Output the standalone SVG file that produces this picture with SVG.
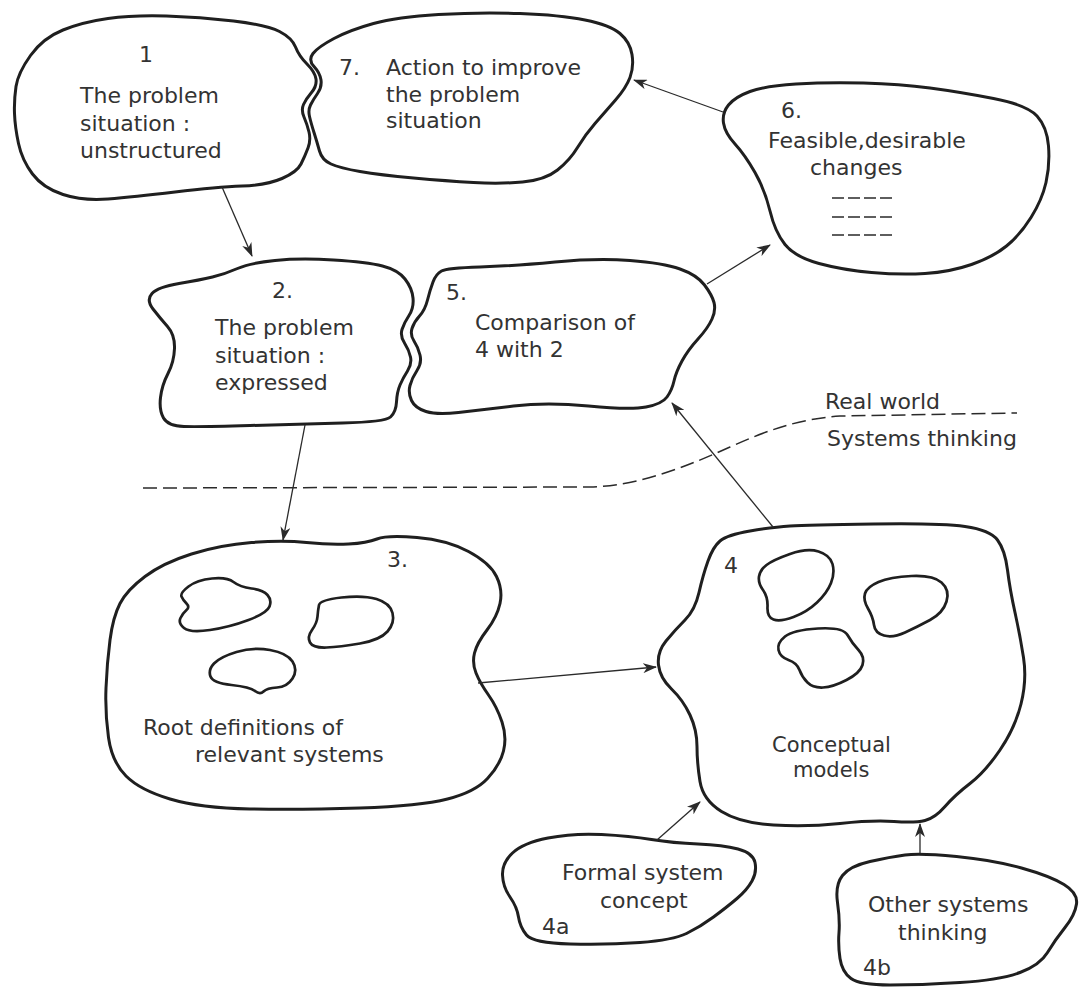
<svg xmlns="http://www.w3.org/2000/svg" width="1086" height="988" viewBox="0 0 1086 988">
<defs>
<marker id="ah" viewBox="0 0 14 10" refX="13" refY="5" markerWidth="14" markerHeight="10" markerUnits="userSpaceOnUse" orient="auto">
<path d="M0,0 L14,5 L0,10 L4,5 Z" fill="#2a2a2a"/>
</marker>
<style>
.node{fill:none;stroke:#1f1f1f;stroke-width:3;stroke-linejoin:round}
.blob{fill:none;stroke:#1f1f1f;stroke-width:2.7;stroke-linejoin:round}
.con{fill:none;stroke:#2a2a2a;stroke-width:1.3;marker-end:url(#ah)}
.dash{fill:none;stroke:#2a2a2a;stroke-width:1.5;stroke-dasharray:14 6}
.sdash{fill:none;stroke:#2a2a2a;stroke-width:1.5;stroke-dasharray:12 4}
text{font-family:"DejaVu Sans","Liberation Sans",sans-serif;font-size:22px;fill:#333333}
</style>
</defs>
<rect width="1086" height="988" fill="#ffffff"/>

<g id="node1">
<path class="node" d="M 30.5,55.5 Q 43,38 63,30 Q 83,22 108,18.5 Q 133,15 166.5,16 Q 200,17 233.5,21 Q 267,25 279.5,31.5 Q 292,38 295.5,47 Q 299,56 307,64 Q 315,72 316,79 Q 317,86 311.5,92.5 Q 306,99 303.5,104.5 Q 301,110 304,117 Q 307,124 309,132 Q 311,140 308,148 Q 305,156 301,164 Q 297,172 282,178.5 Q 267,185 242,186 Q 217,187 175,192 Q 133,197 108,199 Q 83,201 63,194.5 Q 43,188 32.5,174 Q 22,160 18.5,143.5 Q 15,127 14.5,113.5 Q 14,100 16,86.5 Q 18,73 30.5,55.5 Z"/>
<text x="139" y="62">1</text>
<text x="80" y="103">The problem</text>
<text x="80" y="131">situation :</text>
<text x="80" y="158">unstructured</text>
</g>

<g id="node7">
<path class="node" d="M 334,38.5 Q 350,30 373.5,23.5 Q 397,17 438.5,14.5 Q 480,12 520,13.5 Q 560,15 585,20 Q 610,25 620,33.5 Q 630,42 632,54.5 Q 634,67 630,77.5 Q 626,88 615.5,100 Q 605,112 595,123.5 Q 585,135 577.5,147.5 Q 570,160 557.5,170 Q 545,180 522.5,182 Q 500,184 473.5,182.5 Q 447,181 413.5,178 Q 380,175 360,171.5 Q 340,168 331,164 Q 322,160 319.5,151 Q 317,142 314,132.5 Q 311,123 309.5,116.5 Q 308,110 310.5,105 Q 313,100 317.5,93.5 Q 322,87 321,80 Q 320,73 314,66.5 Q 308,60 313,53.5 Q 318,47 334,38.5 Z"/>
<text x="339" y="75">7.</text>
<text x="386" y="75">Action to improve</text>
<text x="386" y="102">the problem</text>
<text x="386" y="128">situation</text>
</g>

<g id="node6">
<path class="node" d="M 728.5,105 Q 735,97 750,91.5 Q 765,86 796,84 Q 827,82 863.5,83 Q 900,84 930,88 Q 960,92 993.5,98.5 Q 1027,105 1037,116 Q 1047,127 1048.5,146 Q 1050,165 1046,182.5 Q 1042,200 1031,217.5 Q 1020,235 1006.5,246 Q 993,257 971.5,264.5 Q 950,272 925,273.5 Q 900,275 871.5,272.5 Q 843,270 819,263.5 Q 795,257 785,244.5 Q 775,232 770,211 Q 765,190 755,172.5 Q 745,155 735,144 Q 725,133 723.5,123 Q 722,113 728.5,105 Z"/>
<text x="781" y="118">6.</text>
<text x="768" y="148">Feasible,desirable</text>
<text x="810" y="175">changes</text>
<path class="sdash" d="M 832,198 H 892 M 832,217 H 892 M 832,235 H 892"/>
</g>

<g id="node2">
<path class="node" d="M 152,293.5 Q 158,287 179,283.5 Q 200,280 212.5,277 Q 225,274 237.5,268.5 Q 250,263 275,260.5 Q 300,258 333.5,260 Q 367,262 382.5,266 Q 398,270 405,279 Q 412,288 413,298 Q 414,308 409,315.5 Q 404,323 402,329.5 Q 400,336 404.5,343 Q 409,350 410.5,357 Q 412,364 407.5,371 Q 403,378 400,385 Q 397,392 396.5,402 Q 396,412 390.5,417 Q 385,422 342.5,423 Q 300,424 250,425.5 Q 200,427 184,426.5 Q 168,426 163.5,418 Q 159,410 160.5,397.5 Q 162,385 168,373.5 Q 174,362 174.5,348.5 Q 175,335 167.5,326.5 Q 160,318 153,309 Q 146,300 152,293.5 Z"/>
<text x="272" y="298">2.</text>
<text x="215" y="335">The problem</text>
<text x="215" y="363">situation :</text>
<text x="215" y="390">expressed</text>
</g>

<g id="node5">
<path class="node" d="M 441.5,271 Q 447,268 480,267 Q 513,266 555,262 Q 597,258 630,260.5 Q 663,263 680,269 Q 697,275 704.5,285 Q 712,295 714,302.5 Q 716,310 712,319 Q 708,328 698,339 Q 688,350 682,361 Q 676,372 674,381 Q 672,390 667,397 Q 662,404 646,407 Q 630,410 588.5,406 Q 547,402 513.5,406 Q 480,410 458.5,412.5 Q 437,415 426,411.5 Q 415,408 411.5,400.5 Q 408,393 410,385.5 Q 412,378 417,370.5 Q 422,363 420,355 Q 418,347 414,341 Q 410,335 412,328.5 Q 414,322 419.5,316 Q 425,310 427.5,300 Q 430,290 433,282 Q 436,274 441.5,271 Z"/>
<text x="446" y="300">5.</text>
<text x="475" y="330">Comparison of</text>
<text x="475" y="357">4 with 2</text>
</g>

<g id="node3">
<path class="node" d="M 120,603.5 Q 127,590 145,576.5 Q 163,563 191.5,554 Q 220,545 251.5,542.5 Q 283,540 306.5,542.5 Q 330,545 348.5,544 Q 367,543 377,539 Q 387,535 417,537.5 Q 447,540 468.5,551.5 Q 490,563 496.5,576.5 Q 503,590 500,603.5 Q 497,617 487,630 Q 477,643 474.5,653 Q 472,663 476,673 Q 480,683 488.5,695 Q 497,707 502,722 Q 507,737 503.5,751 Q 500,765 487.5,778.5 Q 475,792 447.5,799 Q 420,806 360,808 Q 300,810 250,809 Q 200,808 170,799 Q 140,790 126,776 Q 112,762 108.5,737.5 Q 105,713 106,688 Q 107,663 110,640 Q 113,617 120,603.5 Z"/>
<path class="blob" d="M 188.5,586.5 Q 197,580 212,578.5 Q 227,577 233.5,582 Q 240,587 251.5,588.5 Q 263,590 267.5,595 Q 272,600 269.5,606.5 Q 267,613 248.5,620 Q 230,627 210,630 Q 190,633 184,628 Q 178,623 180.5,618 Q 183,613 186.5,610 Q 190,607 186.5,603.5 Q 183,600 181.5,596.5 Q 180,593 188.5,586.5 Z"/>
<path class="blob" d="M 341.5,597.5 Q 363,595 376.5,599 Q 390,603 392.5,613 Q 395,623 387.5,631.5 Q 380,640 360,643.5 Q 340,647 326.5,647.5 Q 313,648 310,642.5 Q 307,637 312,630 Q 317,623 317.5,616.5 Q 318,610 319,605 Q 320,600 341.5,597.5 Z"/>
<path class="blob" d="M 236.5,652 Q 253,647 270,650 Q 287,653 292.5,661.5 Q 298,670 292.5,678.5 Q 287,687 277,687.5 Q 267,688 263.5,691.5 Q 260,695 255,691 Q 250,687 231.5,685 Q 213,683 210.5,676.5 Q 208,670 214,663.5 Q 220,657 236.5,652 Z"/>
<text x="387" y="567">3.</text>
<text x="143" y="735">Root  definitions of</text>
<text x="195" y="762">relevant systems</text>
</g>

<g id="node4">
<path class="node" d="M 720,541 Q 727,535 750,531 Q 773,527 790,526 Q 807,525 873.5,524 Q 940,523 965,526.5 Q 990,530 997.5,540 Q 1005,550 1007.5,570 Q 1010,590 1015,612.5 Q 1020,635 1023.5,657.5 Q 1027,680 1021,704 Q 1015,728 1000,750 Q 985,772 970,783.5 Q 955,795 945,806.5 Q 935,818 925,820.5 Q 915,823 894,821.5 Q 873,820 840,823.5 Q 807,827 773.5,825 Q 740,823 721.5,811.5 Q 703,800 700,781.5 Q 697,763 697,746.5 Q 697,730 690,715 Q 683,700 671.5,689 Q 660,678 658.5,665 Q 657,652 666,641 Q 675,630 685,620 Q 695,610 699,592.5 Q 703,575 708,561 Q 713,547 720,541 Z"/>
<path class="blob" d="M 766.5,565 Q 773,560 790,554 Q 807,548 818.5,551.5 Q 830,555 832.5,564 Q 835,573 831,583 Q 827,593 817,602.5 Q 807,612 793.5,617 Q 780,622 773.5,619.5 Q 767,617 767.5,607 Q 768,597 763,590 Q 758,583 759,576.5 Q 760,570 766.5,565 Z"/>
<path class="blob" d="M 878.5,582 Q 890,577 911.5,576 Q 933,575 941.5,582.5 Q 950,590 946.5,601.5 Q 943,613 930,620 Q 917,627 905,632.5 Q 893,638 884,635.5 Q 875,633 874,625 Q 873,617 868,608.5 Q 863,600 865,593.5 Q 867,587 878.5,582 Z"/>
<path class="blob" d="M 785,636.5 Q 793,630 818,628.5 Q 843,627 847.5,635 Q 852,643 858.5,650 Q 865,657 862.5,665 Q 860,673 846.5,680 Q 833,687 823,687.5 Q 813,688 807.5,682.5 Q 802,677 799.5,670 Q 797,663 788.5,660 Q 780,657 778.5,650 Q 777,643 785,636.5 Z"/>
<text x="724" y="573">4</text>
<text x="772" y="752" style="font-size:21px">Conceptual</text>
<text x="793" y="777" style="font-size:21px">models</text>
</g>

<g id="node4a">
<path class="node" d="M 512.5,853 Q 523,843 548,838 Q 573,833 601.5,834.5 Q 630,836 651.5,839.5 Q 673,843 698,844 Q 723,845 738,849 Q 753,853 755,862.5 Q 757,872 752,881 Q 747,890 737,898.5 Q 727,907 713.5,917 Q 700,927 686.5,933.5 Q 673,940 640,942.5 Q 607,945 570,944 Q 533,943 526.5,935 Q 520,927 518.5,917 Q 517,907 510,897 Q 503,887 502.5,875 Q 502,863 512.5,853 Z"/>
<text x="562" y="880">Formal system</text>
<text x="600" y="908">concept</text>
<text x="542" y="934">4a</text>
</g>

<g id="node4b">
<path class="node" d="M 842.5,875.5 Q 850,866 870,861.5 Q 890,857 905,855 Q 920,853 956.5,856.5 Q 993,860 1021.5,868 Q 1050,876 1064,884.5 Q 1078,893 1076.5,904 Q 1075,915 1065,927.5 Q 1055,940 1047.5,952.5 Q 1040,965 1020,972.5 Q 1000,980 960,982.5 Q 920,985 890,985 Q 860,985 851,978.5 Q 842,972 840,958.5 Q 838,945 839,932.5 Q 840,920 837.5,902.5 Q 835,885 842.5,875.5 Z"/>
<text x="868" y="912">Other systems</text>
<text x="898" y="940">thinking</text>
<text x="863" y="975">4b</text>
</g>

<g id="boundary">
<path class="dash" d="M 143,488 L 590,487 C 640,486 690,465 730,447 C 770,429 800,419 840,416 L 1017,413"/>
<text x="825" y="409">Real world</text>
<text x="827" y="446">Systems thinking</text>
</g>

<g id="connectors">
<line class="con" x1="222" y1="187" x2="252" y2="256"/>
<line class="con" x1="723" y1="112" x2="634" y2="80"/>
<line class="con" x1="707" y1="284" x2="770" y2="245"/>
<line class="con" x1="305" y1="425" x2="283" y2="540"/>
<line class="con" x1="773" y1="527" x2="672" y2="403"/>
<line class="con" x1="478" y1="683" x2="656" y2="667"/>
<line class="con" x1="657" y1="840" x2="700" y2="802"/>
<line class="con" x1="920" y1="853" x2="920" y2="824"/>
</g>
</svg>
